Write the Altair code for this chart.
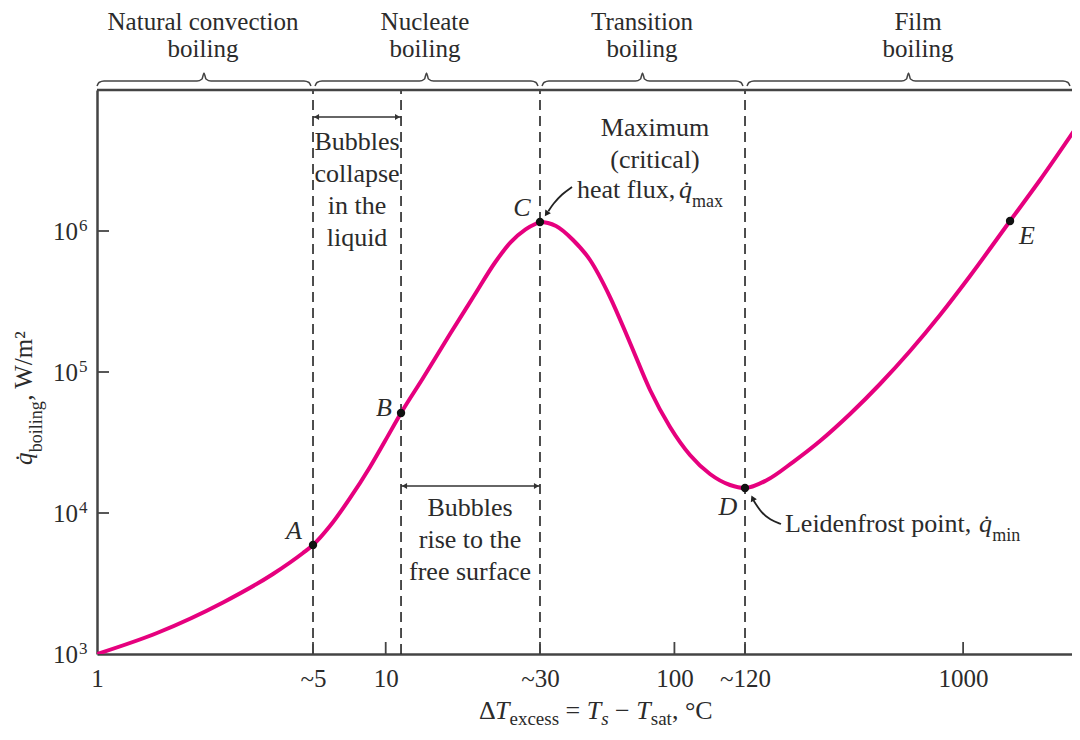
import altair as alt
import pandas as pd

# ---------------- data ----------------
curve_dT = [1.0, 1.614, 2.732, 4.07, 5.17, 5.60, 6.41, 7.52, 8.822, 9.945, 11.30,
            13.47, 16.70, 20.15, 23.98, 27.06, 30.51, 33.25, 34.23,
            38.89, 44.55, 51.02, 59.84, 70.21, 82.34, 96.56, 113.2, 132.8, 155.8, 175.6,
            209.3, 257.5, 319.4, 405.8, 515.4, 654.9, 831.8, 1056.6, 1453.8, 1846.6, 2540.6]
curve_q = [1000, 1409, 2320, 3693, 5203, 5929, 8080, 12740, 21220, 32400, 51200,
           90690, 186000, 343000, 603000, 830000, 1028000, 1130000, 1158300,
           1085200, 863700, 622700, 340300, 160600, 74550, 40740, 25780, 18910, 15800, 15040,
           17140, 22990, 32400, 50360, 82200, 140900, 253700, 479700, 1177500, 2299000, 5929000]

point_names = ["A", "B", "C", "D", "E"]
point_dT = [5.60, 11.30, 34.23, 175.6, 1453.8]
point_q = [5929, 51200, 1158300, 15040, 1177500]

boundary_dT = [5.6, 11.3, 34.23, 175.6]

xtick_values = [1, 5.6, 10, 34.23, 100, 175.6, 1000]
xtick_labels = ["1", "~5", "10", "~30", "100", "~120", "1000"]
xtick_marks = [5.6, 10, 34.23, 100, 175.6, 1000]
ytick_values = [1000, 10000, 100000, 1000000]
ytick_exponents = ["3", "4", "5", "6"]

regime_names = ["Natural convection\nboiling", "Nucleate\nboiling",
                "Transition\nboiling", "Film\nboiling"]
regime_start = [1.0, 5.69, 34.78, 178.4]
regime_end = [5.51, 33.69, 172.8, 2345.0]

X_MAX = 2383
SERIF = "Liberation Serif"
INK = "#2b2b2b"
FRAME = "#444444"
MAGENTA = "#E6007E"

XS = alt.Scale(type="log", domain=[1, X_MAX], nice=False)
YS = alt.Scale(type="log", domain=[1000, 1e7], nice=False)

label_expr = "".join(f"datum.value == {v} ? '{l}' : " for v, l in zip(xtick_values, xtick_labels)) + "''"
XAXIS = alt.Axis(values=xtick_values, labelExpr=label_expr, title=None, ticks=False, tickSize=0,
                 labelFont=SERIF, labelFontSize=25, labelColor=INK, labelPadding=12,
                 labelFlush=False, labelOverlap=False, grid=False,
                 domainColor=FRAME, domainWidth=2.5)
YAXIS = alt.Axis(values=ytick_values, labels=False, ticks=False, tickSize=0, title=None, grid=False,
                 domainColor=FRAME, domainWidth=2.5)


def xe(field="x"):
    return alt.X(f"{field}:Q", scale=XS, axis=XAXIS)


def ye(field="y"):
    return alt.Y(f"{field}:Q", scale=YS, axis=YAXIS)


def text_layer(rows, **mk):
    df = pd.DataFrame(rows, columns=["x", "y", "t"])
    base = dict(font=SERIF, color=INK, fontSize=26, align="left", baseline="alphabetic")
    base.update(mk)
    return alt.Chart(df).mark_text(**base).encode(x=xe(), y=ye(), text="t:N")


# ---------------- main curve ----------------
curve = alt.Chart(pd.DataFrame({"x": curve_dT, "y": curve_q})).mark_line(
    color=MAGENTA, strokeWidth=4, interpolate="monotone", clip=True
).encode(x=xe(), y=ye())

top_border = alt.Chart(pd.DataFrame({"x": [1], "x2": [X_MAX], "y": [1e7]})).mark_rule(
    color=FRAME, strokeWidth=2.5).encode(x=xe(), x2="x2:Q", y=ye())

# inward ticks
xt = pd.DataFrame({"x": xtick_marks, "y": [1000] * len(xtick_marks),
                   "y2": [1000 * 10 ** (12 / 141)] * len(xtick_marks)})
xticks = alt.Chart(xt).mark_rule(color=FRAME, strokeWidth=1.8).encode(x=xe(), y=ye(), y2="y2:Q")
yt = pd.DataFrame({"y": ytick_values[1:], "x": [1] * 3, "x2": [10 ** (12 / 288.7)] * 3})
yticks = alt.Chart(yt).mark_rule(color=FRAME, strokeWidth=1.8).encode(x=xe(), x2="x2:Q", y=ye())

# y tick labels 10^n
ylab_main = text_layer([(0.8594, v * 10 ** (-9 / 141), "10") for v in ytick_values],
                       align="right", fontSize=25)
ylab_exp = text_layer([(0.8665, v, e) for v, e in zip(ytick_values, ytick_exponents)],
                      fontSize=17)

# dashed regime boundaries
dashed = alt.Chart(pd.DataFrame({"x": boundary_dT, "y": [1000] * 4, "y2": [1e7] * 4})).mark_rule(
    color="#222222", strokeWidth=1.6, strokeDash=[10, 6]).encode(x=xe(), y=ye(), y2="y2:Q")

# braces above the plot
f2 = 10 ** (2 / 288.7)
f7 = 10 ** (7 / 288.7)
brace_rows = []
for i, (a, b) in enumerate(zip(regime_start, regime_end)):
    m = (a * b) ** 0.5
    pts = [(a, 1.068e7), (a * f2, 1.130e7), (a * f7, 1.158e7), (m / f7, 1.158e7),
           (m / f2, 1.197e7), (m, 1.32e7), (m * f2, 1.197e7), (m * f7, 1.158e7),
           (b / f7, 1.158e7), (b / f2, 1.130e7), (b, 1.068e7)]
    for k, (x, y) in enumerate(pts):
        brace_rows.append({"g": i, "o": k, "x": x, "y": y})
braces = alt.Chart(pd.DataFrame(brace_rows)).mark_line(
    color=FRAME, strokeWidth=1.5, interpolate="monotone").encode(
    x=xe(), y=ye(), detail="g:N", order="o:Q")

regime_labels = text_layer([(2.329, 2.665e7, regime_names[0]), (13.68, 2.665e7, regime_names[1]),
                            (77.2, 2.665e7, regime_names[2]), (698, 2.665e7, regime_names[3])],
                           align="center", lineBreak="\n", lineHeight=27, fontSize=25)

# double arrows
f3 = 10 ** (3.5 / 288.7)
darrows = pd.DataFrame({"x": [5.6, 11.3], "x2": [11.3, 34.23], "y": [6.435e6, 1.554e4]})
darrow_lines = alt.Chart(darrows).mark_rule(color="#333", strokeWidth=1.5).encode(
    x=xe(), x2="x2:Q", y=ye())
heads_l = alt.Chart(pd.DataFrame({"x": [5.6 * f3, 11.3 * f3], "y": [6.435e6, 1.554e4]})).mark_point(
    shape="triangle-left", filled=True, size=35, color="#333", opacity=1).encode(x=xe(), y=ye())
heads_r = alt.Chart(pd.DataFrame({"x": [11.3 / f3, 34.23 / f3], "y": [6.435e6, 1.554e4]})).mark_point(
    shape="triangle-right", filled=True, size=35, color="#333", opacity=1).encode(x=xe(), y=ye())

# curved pointer arrows
ptr = pd.DataFrame({
    "g": [0, 0, 0, 0, 1, 1, 1, 1, 1],
    "o": [0, 1, 2, 3, 0, 1, 2, 3, 4],
    "x": [44.19, 40.80, 37.97, 36.6, 234.0, 214.4, 199.5, 190.2, 188.0],
    "y": [2.052e6, 1.830e6, 1.554e6, 1.38e6, 8356, 8920, 10165, 11775, 12300],
})
pointers = alt.Chart(ptr).mark_line(color="#222", strokeWidth=1.8, interpolate="basis").encode(
    x=xe(), y=ye(), detail="g:N", order="o:Q")
ptr_heads = alt.Chart(pd.DataFrame({"x": [36.2, 187.2], "y": [1.342e6, 12570], "a": [214, 335]})).mark_point(
    shape="triangle", filled=True, size=45, color="#222", opacity=1).encode(
    x=xe(), y=ye(), angle=alt.Angle("a:Q", scale=None))

# points
pts_layer = alt.Chart(pd.DataFrame({"x": point_dT, "y": point_q})).mark_circle(
    size=70, color="#111", opacity=1).encode(x=xe(), y=ye())
pt_labels = text_layer([(4.814, 7450, "A"), (9.865, 55500, "B"), (29.66, 1.456e6, "C"),
                        (153.3, 11030, "D"), (1665, 921000, "E")],
                       align="center", baseline="middle", fontStyle="italic")

# annotation texts
ann_center = text_layer([(7.955, 3.754e6, "Bubbles\ncollapse\nin the\nliquid"),
                         (19.59, 9522, "Bubbles\nrise to the\nfree surface"),
                         (85.67, 4.718e6, "Maximum\n(critical)")],
                        align="center", lineBreak="\n", lineHeight=32)
ann_left = text_layer([(45.98, 1.714e6, "heat flux,"), (241.5, 7333, "Leidenfrost point,")])
ann_q = text_layer([(103.7, 1.714e6, "q\u0307"), (1135, 7333, "q\u0307")], fontStyle="italic")
ann_sub = text_layer([(115.1, 1.48e6, "max"), (1262, 6330, "min")], fontSize=18)

# x-axis title pieces
YT_MAIN = 345.9
YT_SUB = 313.7
xt_main = text_layer([(21.05, YT_MAIN, "\u0394"), (41.96, YT_MAIN, "="), (62.32, YT_MAIN, "\u2212"),
                      (98.0, YT_MAIN, ", \u00b0C")])
xt_ital = text_layer([(23.89, YT_MAIN, "T"), (49.68, YT_MAIN, "T"), (73.79, YT_MAIN, "T")],
                     fontStyle="italic")
xt_sub = text_layer([(26.83, YT_SUB, "excess"), (82.83, YT_SUB, "sat")], fontSize=19)
xt_sub_it = text_layer([(55.78, YT_SUB, "s")], fontSize=19, fontStyle="italic")

# y-axis title pieces (rotated)
yt_q = text_layer([(0.5956, 2.19e4, "q\u0307")], angle=270, fontStyle="italic", fontSize=25)
yt_sub = text_layer([(0.6449, 2.70e4, "boiling")], angle=270, fontSize=18)
yt_unit = text_layer([(0.5956, 6.25e4, ", W/m\u00b2")], angle=270, fontSize=25)

chart = alt.layer(
    dashed, xticks, yticks, top_border, braces, regime_labels,
    darrow_lines, heads_l, heads_r, curve, pointers, ptr_heads, pts_layer, pt_labels,
    ann_center, ann_left, ann_q, ann_sub,
    ylab_main, ylab_exp, xt_main, xt_ital, xt_sub, xt_sub_it, yt_q, yt_sub, yt_unit,
).properties(
    width=975, height=564,
    autosize=alt.AutoSizeParams(type="none"),
    padding={"left": 89, "top": 82, "right": 0, "bottom": 78},
    background="white",
).configure_view(stroke="transparent", strokeWidth=0)

chart.save("out.html", embed_options={"renderer": "svg", "actions": False})
